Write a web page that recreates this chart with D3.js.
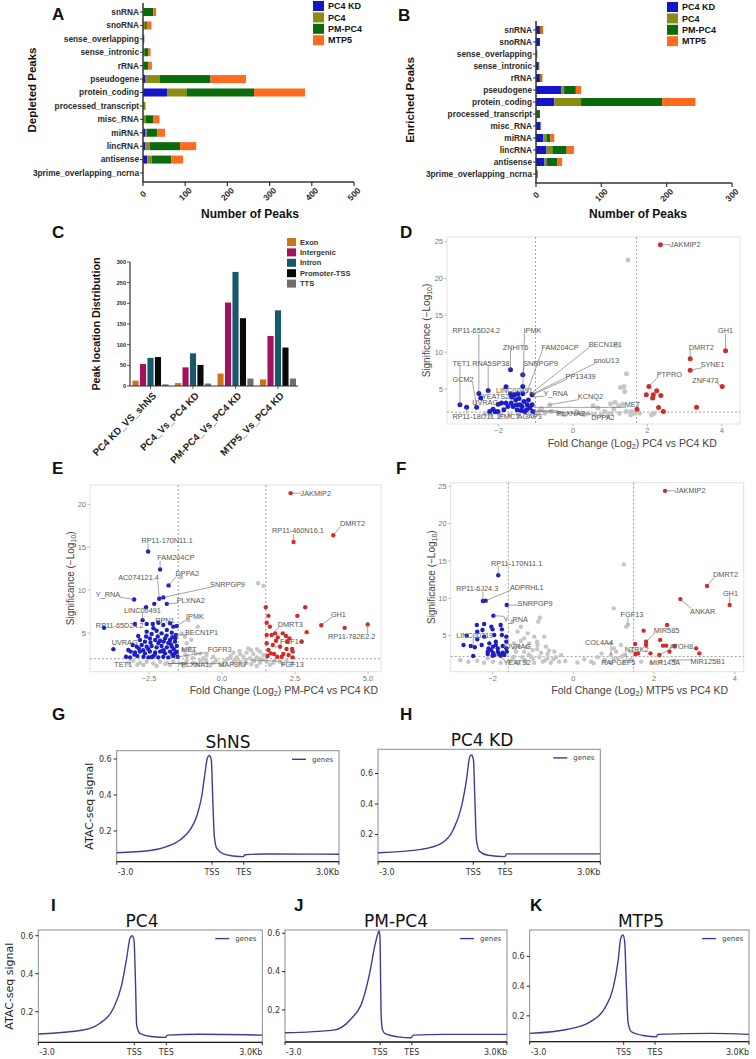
<!DOCTYPE html>
<html><head><meta charset="utf-8">
<script src="https://cdn.jsdelivr.net/npm/d3@7"></script>
<style>body{margin:0;background:#fff}svg{display:block}</style>
</head><body>
<svg id="fig" width="756" height="1059"></svg>
<script>
// ---------------- DATA ----------------
const bioCategories = ["snRNA","snoRNA","sense_overlapping","sense_intronic","rRNA","pseudogene","protein_coding","processed_transcript","misc_RNA","miRNA","lincRNA","antisense","3prime_overlapping_ncrna"];
const barSeries = ["PC4 KD","PC4","PM-PC4","MTP5"];
// Depleted peaks (panel A)
const depletedPC4KD = [1,1,2,1,1,6,57,1,1,6,5,10,0];
const depletedPC4   = [1,4,0,2,1,33,46,5,5,3,11,11,0];
const depletedPMPC4 = [22,4,1,10,11,121,160,0,19,25,72,46,0];
const depletedMTP5  = [7,11,0,5,8,84,121,0,14,18,38,28,0];
// Enriched peaks (panel B)
const enrichedPC4KD = [6,6,0,4,6,39,28,0,7,11,16,13,0];
const enrichedPC4   = [2,0,1,0,2,4,40,1,1,5,9,3,3];
const enrichedPMPC4 = [1,0,1,1,1,18,125,5,0,6,22,17,0];
const enrichedMTP5  = [2,0,0,0,1,8,51,0,0,6,11,7,0];
const depletedTicks = [0,100,200,300,400,500];
const enrichedTicks = [0,100,200,300];

// Peak location distribution (panel C)
const locationGroups = ["PC4 KD_VS_shNS","PC4_Vs_PC4 KD","PM-PC4_Vs_PC4 KD","MTP5_Vs_PC4 KD"];
const locationTypes = ["Exon","Intergenic","Intron","Promoter-TSS","TTS"];
const exonCounts       = [13,7,30,16];
const intergenicCounts = [53,45,202,121];
const intronCounts     = [68,79,276,183];
const promoterCounts   = [70,51,164,93];
const ttsCounts        = [4,6,18,18];
const locationTicks = [0,50,100,150,200,250,300];

// Volcano D : PC4 vs PC4 KD  [log2FC, -log10 p]
const dBlue = [[-3.04,2.85],[-2.86,2.53],[-2.59,2.53],[-2.53,4.39],[-2.48,3.76],[-2.28,4.8],[-2.24,1.95],[-2.09,1.9],[-2.01,2.94],[-1.86,2.17],[-1.80,5.29],[-1.80,3.08],[-1.68,7.6],[-1.68,4.34],[-1.66,3.08],[-1.61,2.62],[-1.57,4.2],[-1.54,3.53],[-1.50,2.17],[-1.48,4.34],[-1.43,2.85],[-1.37,2.62],[-1.35,6.92],[-1.35,5.34],[-1.35,4.34],[-1.32,3.3],[-1.25,2.17],[-1.23,2.85],[-1.16,2.4],[-1.10,4.2],[-1.10,2.85],[-1.08,1.95],[-1.30,1.95],[-1.75,2.62],[-1.92,3.08],[-2.15,2.26],[-2.02,1.95],[-1.39,2.08],[-1.52,2.85],[-1.45,3.7],[-1.20,3.5],[-1.65,3.9]];
const dRed = [[2.35,24.6],[4.10,10.2],[3.15,9.1],[3.15,7.56],[4.01,5.34],[2.04,5.34],[2.25,4.75],[1.97,4.2],[2.16,4.2],[2.36,4.12],[2.14,3.76],[3.32,2.53],[2.30,2.49],[2.43,1.95],[1.72,2.26]];
const dGray = [[1.48,22.5],[1.16,10.9],[1.44,7.06],[1.37,5.34],[1.28,5.2],[1.39,4.66],[1.13,3.21],[1.01,2.99],[1.23,2.71],[1.34,2.94],[1.43,1.95],[1.57,1.95],[1.66,1.72],[1.79,1.72],[2.11,1.49],[2.18,1.72],[1.03,1.72],[0.85,1.95],[0.67,2.4],[0.54,2.71],[0.40,1.72],[0.22,1.72],[0.09,1.95],[-0.22,1.49],[-0.40,1.72],[-0.58,1.95],[-0.63,2.85],[-0.76,1.72],[-0.90,2.08],[-0.94,1.72],[-1.03,1.49],[-1.21,1.63],[-1.48,1.63],[-1.70,1.49],[-1.93,1.54],[-2.20,1.49],[-2.37,1.63],[0.76,1.49],[0.94,1.36],[1.25,1.72],[0.58,1.49],[-0.3,1.6],[0.3,1.5],[1.1,2.3],[-0.85,2.3],[1.55,1.5]];
// label: [text, labelX, labelY, anchor, pointX, pointY]
const dLabels = [["JAKMIP2",2.61,24.6,"start",2.35,24.6],["GH1",4.10,12.9,"middle",4.10,10.2],["DMRT2",3.45,10.7,"middle",3.15,9.1],["SYNE1",3.43,8.28,"start",3.15,7.56],["ZNF473",3.56,6.15,"middle",4.01,5.34],["PTPRO",2.25,7.0,"start",2.04,5.34],["MET",1.39,2.85,"start",-1.05,2.5],["KCNQ2",0.13,3.98,"start",-0.63,2.85],["PLXNA2",-0.43,1.72,"start",-0.95,2.05],["DPPA2",0.49,1.18,"start",-1.1,2.0],["Y_RNA",-0.79,4.43,"start",-1.08,3.9],["PP13439",-0.2,6.7,"start",-1.10,4.2],["snoU13",0.56,8.87,"start",-1.10,4.3],["BECN1P1",0.42,11.1,"start",-1.12,4.4],["FAM204CP",-0.85,10.7,"start",-1.25,4.34],["IPMK",-1.33,12.9,"start",-1.35,5.34],["ZNHIT6",-1.89,10.7,"start",-1.68,7.6],["SNRPGP9",-1.34,8.5,"start",-1.35,6.92],["RNA5SP38",-2.71,8.5,"start",-2.28,4.8],["TET1",-3.24,8.5,"start",-3.04,2.85],["RP11-65D24.2",-3.24,12.9,"start",-2.53,4.39],["GCM2",-3.24,6.33,"start",-2.59,2.53],["YEATS2",-2.45,4.02,"start",null,null],["UVRAG",-2.71,3.15,"start",null,null],["LINC00491",-2.07,4.75,"start",null,null],["RP11-18O11.1",-3.24,1.27,"start",-2.86,2.53],["EMC7",-1.99,1.27,"start",null,null],["AGAP3",-1.49,1.27,"start",null,null]];

// Volcano E : PM-PC4 vs PC4 KD
const eBlue = [[-2.53,14.5],[-2.12,12.4],[-1.83,10.55],[-3.01,8.9],[-2.15,9.0],[-2.01,9.15],[-2.32,8.4],[-1.89,8.4],[-2.6,8.0],[-4.04,5.6],[-3.72,3.12],[-2.98,6.05],[-2.72,6.5],[-2.58,6.05],[-2.37,6.05],[-2.18,6.2],[-2.01,5.93],[-1.67,5.74],[-1.55,5.82],[-2.58,5.16],[-2.41,4.88],[-2.24,5.27],[-2.07,4.96],[-1.89,5.35],[-1.72,5.04],[-1.58,4.77],[-2.81,4.18],[-2.64,3.99],[-2.47,4.37],[-2.29,4.18],[-2.12,4.1],[-1.95,4.37],[-1.78,4.18],[-1.61,3.99],[-3.06,3.6],[-2.92,3.41],[-2.75,3.6],[-2.58,3.41],[-2.41,3.48],[-2.24,3.33],[-2.07,3.48],[-1.89,3.33],[-1.72,3.41],[-1.55,3.48],[-3.13,2.83],[-2.98,2.72],[-2.81,2.83],[-2.64,2.63],[-2.47,2.83],[-2.29,2.72],[-2.12,2.83],[-1.95,2.63],[-1.78,2.83],[-1.61,2.63],[-3.29,2.24],[-3.15,2.16],[-2.90,2.32],[-2.69,2.24],[-2.52,2.16],[-2.35,2.32],[-2.18,2.16],[-2.01,2.24],[-1.84,2.16],[-1.67,2.32],[-1.52,2.24],[-2.52,3.1],[-2.18,3.84],[-1.84,3.84],[-2.35,5.55],[-1.78,6.13],[-2.87,4.65],[-3.21,3.02],[-2.0,3.0],[-1.7,2.5],[-2.3,2.5],[-1.6,4.4],[-2.7,3.0],[-1.9,4.7],[-2.45,3.9],[-2.0,4.0],[-1.75,3.7],[-2.6,4.6],[-2.2,4.6],[-1.7,4.5],[-2.85,3.2],[-3.0,2.5],[-2.4,2.2],[-2.05,2.9],[-1.65,3.1],[-1.55,2.8]];
const eRed = [[2.35,21.3],[3.81,16.4],[2.45,15.6],[3.40,5.9],[4.2,5.6],[4.99,6.0],[1.5,8.0],[2.85,8.0],[1.59,7.0],[2.58,7.0],[1.53,6.2],[1.64,5.74],[2.9,5.1],[1.53,4.77],[1.70,4.77],[1.82,4.96],[2.08,4.96],[2.19,4.65],[2.31,4.37],[1.91,4.49],[1.85,4.1],[2.24,3.99],[2.73,3.99],[1.53,3.8],[1.74,3.6],[1.99,3.4],[2.21,3.13],[2.40,3.13],[1.59,3.02],[2.42,2.83],[1.67,2.63],[1.78,2.55],[2.10,2.55],[2.28,2.44],[1.56,2.32],[1.89,2.24],[2.04,2.24],[2.42,2.16]];
const eGray = [[1.24,10.8],[1.42,10.5],[-1.40,11.5],[-1.15,6.5],[-0.83,5.74],[-1.38,4.96],[-1.27,4.57],[-1.21,3.8],[-1.10,3.2],[-1.32,3.02],[-0.98,2.83],[-0.75,2.63],[-0.53,2.44],[-0.30,2.24],[0.39,2.71],[0.62,2.55],[0.84,2.71],[1.07,2.55],[1.30,2.83],[1.42,2.44],[0.50,2.16],[0.73,2.24],[0.96,2.05],[1.19,2.16],[-3.04,1.77],[-2.81,1.54],[-2.58,1.65],[-2.35,1.46],[-2.12,1.65],[-1.89,1.54],[-1.67,1.65],[-1.44,1.46],[-1.21,1.77],[-0.98,1.54],[-0.75,1.77],[-0.53,1.65],[-0.30,1.54],[0.39,1.77],[0.62,1.65],[0.84,1.54],[1.07,1.77],[1.30,1.54],[1.53,1.65],[1.76,1.54],[1.99,1.65],[2.21,1.77],[-2.69,1.27],[-2.24,1.15],[-1.78,1.27],[-1.32,1.15],[-0.87,1.27],[0.73,1.27],[1.19,1.15],[1.64,1.27],[2.10,1.38],[-1.95,1.38],[-0.64,2.05],[-1.25,2.5],[-1.05,4.2],[1.0,3.0],[0.2,2.0],[1.3,2.0],[-1.0,2.1],[-0.6,1.9],[-0.2,1.8],[0.1,1.7],[0.5,1.9],[0.8,1.85],[1.1,1.7],[1.4,1.9],[-1.2,2.3],[-0.9,2.6],[0.3,2.3],[0.6,2.9],[0.9,3.2],[1.2,3.1],[-1.3,1.3],[0.0,1.3],[0.4,1.4],[1.0,1.35],[1.8,1.8],[2.4,1.5],[-2.9,1.3],[-3.2,1.5],[-0.4,1.2]];
const eLabels = [["JAKMIP2",2.69,21.3,"start",2.35,21.3],["DMRT2",4.04,17.8,"start",3.81,16.4],["RP11-460N16.1",2.6,16.9,"middle",2.45,15.6],["RP11-170N11.1",-1.88,15.8,"middle",-2.53,14.5],["FAM204CP",-1.58,13.8,"middle",-2.12,12.4],["DPPA2",-1.59,11.95,"start",-1.83,10.55],["AC074121.4",-2.86,11.45,"middle",-2.15,9.0],["SNRPGP9",-0.41,10.7,"start",-2.01,9.15],["Y_RNA",-4.32,9.55,"start",-3.01,8.9],["PLXNA2",-1.55,8.84,"start",-1.89,8.4],["LINC00491",-3.36,7.67,"start",-2.72,6.5],["IPMK",-1.23,6.98,"start",-1.55,5.82],["RPN1",-2.29,6.5,"start",null,null],["RP11-65D24.2",-4.32,5.9,"start",-4.04,5.6],["BECN1P1",-1.27,5.04,"start",-1.58,4.77],["UVRAG",-3.78,3.87,"start",-2.81,4.18],["MET",-1.40,3.13,"start",null,null],["FGFR3",-0.49,3.13,"start",-1.55,2.2],["TET1",-3.69,1.39,"start",-3.15,2.16],["PLXNA1",-1.40,1.39,"start",-1.84,1.45],["MAP3K7",-0.13,1.39,"start",-1.84,1.45],["DMRT3",1.91,6.05,"start",1.70,4.77],["FGF14",1.99,4.06,"start",1.82,3.3],["FGF13",2.02,1.35,"start",1.0,1.85],["GH1",3.73,7.2,"start",3.40,5.9],["RP11-782E2.2",4.44,4.57,"middle",4.99,6.0]];

// Volcano F : MTP5 vs PC4 KD
const fBlue = [[-1.86,13.1],[-2.24,9.64],[-2.17,9.69],[-1.65,9.1],[-1.98,7.68],[-2.39,6.43],[-2.21,6.56],[-2.03,6.2],[-1.80,6.43],[-2.38,5.54],[-2.25,5.76],[-2.00,5.85],[-1.77,5.85],[-2.64,5.0],[-2.38,4.51],[-2.21,4.87],[-1.96,5.09],[-1.77,5.09],[-2.72,3.75],[-2.54,3.62],[-2.44,3.44],[-2.27,3.75],[-2.08,3.97],[-1.92,4.2],[-1.66,4.2],[-1.99,3.53],[-1.87,3.3],[-1.75,3.62],[-1.66,3.3],[-2.12,2.86],[-1.99,2.72],[-1.87,2.86],[-1.75,2.72],[-1.65,2.86],[-2.48,2.28],[-2.12,2.54],[-1.96,2.41],[-1.84,2.54],[-1.71,2.41],[-2.04,3.08],[-1.92,3.75],[-1.66,4.87],[-2.0,2.3],[-1.8,2.3],[-2.1,3.3]];
const fRed = [[2.27,24.4],[3.31,11.65],[3.87,9.1],[2.65,9.9],[2.32,6.43],[1.74,5.67],[2.15,4.42],[1.80,4.2],[1.80,3.75],[1.53,3.88],[2.22,3.66],[2.30,3.66],[2.51,3.62],[3.04,3.3],[3.12,2.63],[1.54,2.54],[1.60,2.63],[1.91,2.63],[2.13,2.41],[2.38,2.86]];
const fGray = [[1.25,14.55],[1.0,8.66],[1.35,6.43],[1.31,6.2],[-0.83,7.41],[-0.87,6.88],[-1.51,6.88],[-1.30,6.2],[-1.38,5.54],[-1.13,5.31],[-1.22,4.64],[-0.97,4.87],[-0.72,4.87],[-1.47,3.97],[-1.34,3.53],[-1.09,3.97],[-0.89,3.75],[-0.68,3.53],[-0.47,2.86],[-1.42,2.86],[-1.22,2.86],[-1.01,3.08],[-0.80,2.72],[-0.64,2.54],[-1.47,2.19],[-1.26,2.1],[-1.05,2.19],[-0.84,2.1],[-0.64,1.96],[-0.43,2.1],[-0.35,1.52],[-0.56,1.38],[-0.76,1.52],[-0.97,1.38],[-1.18,1.52],[-1.38,1.38],[-1.59,1.52],[-1.80,1.38],[-1.99,1.52],[-2.21,1.38],[-2.38,1.65],[-2.12,1.96],[0.27,1.83],[0.44,1.52],[0.60,2.1],[0.77,1.74],[0.93,2.41],[1.06,2.86],[1.10,1.96],[1.26,2.41],[1.43,2.86],[1.26,1.52],[1.43,1.83],[0.93,1.38],[1.68,1.52],[1.93,1.38],[2.17,1.52],[0.93,3.97],[1.18,3.75],[-1.1,2.5],[-0.9,3.2],[-1.3,4.3],[-1.5,1.8],[-1.2,1.7],[-1.0,1.9],[-0.7,1.7],[-0.5,1.85],[-0.2,1.6],[0.1,1.4],[0.5,1.3],[0.8,1.6],[1.0,1.9],[1.2,2.2],[1.4,1.7],[-1.45,3.3],[-1.15,3.5],[-0.9,4.2],[-0.6,3.0],[-0.3,2.4],[0.7,2.6],[1.0,3.3],[-2.6,1.5],[-2.8,1.7],[2.5,1.6]];
const fLabels = [["JAKMIP2",2.52,24.4,"start",2.27,24.4],["DMRT2",3.46,13.2,"start",3.31,11.65],["GH1",3.89,10.67,"middle",3.87,9.1],["ANKAR",2.89,8.26,"start",2.65,9.9],["RP11-170N11.1",-2.04,14.7,"start",-1.86,13.1],["RP11-6J24.3",-2.90,11.3,"start",-2.24,9.64],["ADPRHL1",-1.57,11.5,"start",-2.17,9.69],["SNRPGP9",-1.38,9.3,"start",-1.65,9.1],["Y_RNA",-1.73,7.19,"start",-1.98,7.68],["LINC00319",-2.90,5.09,"start",-2.48,3.5],["UVRAG",-1.69,3.53,"start",null,null],["YEATS2",-1.73,1.38,"start",-1.95,2.5],["FGF13",1.17,7.86,"start",1.35,6.43],["MIR585",1.99,5.76,"start",1.80,4.2],["COL4A4",0.29,4.06,"start",0.93,2.41],["NTRK2",1.27,3.17,"start",1.31,1.6],["ATOH8",2.38,3.62,"start",2.13,2.41],["RAPGEF5",0.69,1.38,"start",null,null],["MIR145A",1.89,1.38,"start",null,null],["MIR125B1",2.90,1.52,"start",2.38,1.75]];

// ATAC-seq profiles: [bin (0..7000; TSS=3000, TES=4000), signal]
const profileTickBins = [0,3000,4000,7000];
const profileTickLabels = ["-3.0","TSS","TES","3.0Kb"];
const profileYTicks = [0.2,0.4,0.6];
const shnsProfile = [[0,0.079],[1049,0.091],[1573,0.113],[1993,0.15],[2308,0.206],[2518,0.28],[2675,0.39],[2780,0.52],[2854,0.604],[2917,0.619],[2980,0.594],[3022,0.39],[3074,0.17],[3148,0.104],[3357,0.072],[3672,0.061],[3987,0.057],[4040,0.068],[4722,0.072],[7000,0.07]];
const pc4kdProfile = [[0,0.081],[1366,0.103],[1997,0.142],[2365,0.23],[2628,0.383],[2785,0.557],[2890,0.71],[2943,0.721],[3006,0.689],[3048,0.448],[3100,0.164],[3205,0.088],[3468,0.064],[3994,0.055],[4048,0.073],[5255,0.073],[7000,0.073]];
const pc4Profile = [[0,0.083],[1406,0.104],[1927,0.139],[2344,0.217],[2604,0.34],[2760,0.48],[2865,0.586],[2927,0.6],[2990,0.578],[3042,0.323],[3073,0.13],[3177,0.086],[3594,0.068],[3979,0.065],[4031,0.077],[5052,0.081],[7000,0.077]];
const pmpc4Profile = [[0,0.081],[1523,0.095],[2050,0.148],[2470,0.26],[2680,0.40],[2838,0.539],[2933,0.60],[2965,0.612],[2995,0.58],[3015,0.35],[3035,0.16],[3070,0.1],[3143,0.078],[3563,0.06],[3983,0.055],[4036,0.069],[5032,0.073],[7000,0.073]];
const mtp5Profile = [[0,0.082],[1223,0.11],[1968,0.165],[2393,0.25],[2659,0.385],[2819,0.565],[2904,0.72],[2978,0.744],[3032,0.699],[3085,0.407],[3138,0.16],[3245,0.093],[3670,0.066],[4042,0.059],[4096,0.075],[5798,0.082],[7000,0.075]];

// ---------------- DRAWING ----------------
const svg = d3.select("#fig");
const SANS = "'Liberation Sans', Arial, Helvetica, sans-serif";
const MPL = "'DejaVu Sans', sans-serif";
const barColors = ["#1414c8","#8c8c14","#0b6b0b","#ff6a1e"];
const locColors = ["#cf7414","#a3125c","#17596a","#0a0a0a","#6e6e6e"];
const BLUE = "#1e1ec8", RED = "#d42a2a", GRAY = "#c6c6c6";
const CURVE = "#3c3c9c";

function panelLabel(t,x,y){
  svg.append("text").attr("x",x).attr("y",y).attr("dy","0.35em").text(t)
    .attr("font-family",SANS).attr("font-weight","bold").attr("font-size",17).attr("fill","#111");
}
function rich(t, parts){
  parts.forEach(([s,sub],i)=>{
    const ts = t.append("tspan").text(s);
    if(sub){ ts.attr("font-size","70%").attr("dy",2.5); }
    else if(i>0 && parts[i-1][1]){ ts.attr("dy",-2.5); }
  });
  return t;
}

// ---- stacked horizontal bars (A, B)
function barRows(vals){
  return bioCategories.map((c,i)=>{const r={category:c}; barSeries.forEach((s,j)=>r[s]=vals[j][i]); return r;});
}
function drawStacked(o){
  const g = svg.append("g").attr("font-family",SANS).attr("font-weight","bold");
  const x = d3.scaleLinear().domain([0,o.max]).range([o.left,o.right]);
  const y = d3.scalePoint().domain(bioCategories).range([o.c0,o.c1]);
  const series = d3.stack().keys(barSeries)(barRows(o.vals));
  g.selectAll("g.layer").data(series).join("g").attr("fill",(d,i)=>barColors[i])
    .selectAll("rect").data(d=>d).join("rect")
    .attr("x",d=>x(d[0])).attr("width",d=>Math.max(0,x(d[1])-x(d[0])))
    .attr("y",d=>y(d.data.category)-o.bh/2).attr("height",o.bh);
  g.append("line").attr("x1",o.left).attr("x2",o.left).attr("y1",o.axTop).attr("y2",o.axBot).attr("stroke","#333").attr("stroke-width",1.5);
  g.append("line").attr("x1",o.left-0.75).attr("x2",o.right).attr("y1",o.axBot).attr("y2",o.axBot).attr("stroke","#333").attr("stroke-width",1.5);
  bioCategories.forEach(c=>{
    g.append("line").attr("x1",o.left-3).attr("x2",o.left).attr("y1",y(c)).attr("y2",y(c)).attr("stroke","#333").attr("stroke-width",1);
    g.append("text").attr("x",o.left-4).attr("y",y(c)).attr("dy","0.35em").attr("text-anchor","end").attr("font-size",8.3).attr("fill","#2a2a2a").text(c);
  });
  o.ticks.forEach(t=>{
    g.append("line").attr("x1",x(t)).attr("x2",x(t)).attr("y1",o.axBot).attr("y2",o.axBot+4).attr("stroke","#333").attr("stroke-width",1.2);
    g.append("text").attr("transform",`translate(${x(t)},${o.axBot+12}) rotate(-45)`).attr("text-anchor","middle").attr("dy","0.35em")
      .attr("font-size",8.5).attr("fill","#2a2a2a").text(t);
  });
  g.append("text").attr("x",o.titleX).attr("y",214).attr("dy","0.35em").attr("text-anchor","middle").attr("font-size",12).attr("fill","#111").text("Number of Peaks");
  g.append("text").attr("transform",`translate(${o.ylabX},${o.ylabY}) rotate(-90)`).attr("text-anchor","middle").attr("dy","0.35em").attr("font-size",11.5).attr("fill","#111").text(o.ylab);
  barSeries.forEach((s,i)=>{
    const ly = o.legY + i*11.4;
    g.append("rect").attr("x",o.legX).attr("y",ly-5).attr("width",11).attr("height",10).attr("fill",barColors[i]);
    g.append("text").attr("x",o.legX+15).attr("y",ly).attr("dy","0.35em").attr("font-size",9).attr("fill","#111").text(s);
  });
}
panelLabel("A",52,14);
drawStacked({vals:[depletedPC4KD,depletedPC4,depletedPMPC4,depletedMTP5],max:500,ticks:depletedTicks,left:143,right:354,c0:12,c1:173,bh:8,axTop:3,axBot:182,titleX:250,ylab:"Depleted Peaks",ylabX:32,ylabY:90,legX:313,legY:6});
panelLabel("B",398,15);
drawStacked({vals:[enrichedPC4KD,enrichedPC4,enrichedPMPC4,enrichedMTP5],max:300,ticks:enrichedTicks,left:536,right:732,c0:30,c1:174,bh:8,axTop:21,axBot:183,titleX:638,ylab:"Enriched Peaks",ylabX:410,ylabY:100,legX:667,legY:7});

// ---- grouped bars (C)
(function(){
  const g = svg.append("g").attr("font-family",SANS).attr("font-weight","bold");
  const x0 = d3.scaleBand().domain(locationGroups).range([129.25,299.25]);
  const x1 = d3.scaleBand().domain(locationTypes).range([3.25,39.25]).paddingInner(0.18);
  const y = d3.scaleLinear().domain([0,300]).range([386,262]);
  const vals = [exonCounts,intergenicCounts,intronCounts,promoterCounts,ttsCounts];
  locationGroups.forEach((gn,gi)=>locationTypes.forEach((t,ti)=>{
    g.append("rect").attr("x",x0(gn)+x1(t)).attr("width",x1.bandwidth()).attr("y",y(vals[ti][gi])).attr("height",y(0)-y(vals[ti][gi])).attr("fill",locColors[ti]);
  }));
  g.append("line").attr("x1",130).attr("x2",130).attr("y1",y(300)).attr("y2",y(0)).attr("stroke","#333").attr("stroke-width",1.2);
  g.append("line").attr("x1",129.4).attr("x2",298).attr("y1",y(0)).attr("y2",y(0)).attr("stroke","#333").attr("stroke-width",1.2);
  locationTicks.forEach(t=>{
    g.append("line").attr("x1",127).attr("x2",130).attr("y1",y(t)).attr("y2",y(t)).attr("stroke","#333").attr("stroke-width",0.8);
    g.append("text").attr("x",126).attr("y",y(t)).attr("dy","0.35em").attr("text-anchor","end").attr("font-size",5.5).attr("fill","#222").text(t);
  });
  locationGroups.forEach(gn=>{
    const cx = x0(gn)+x0.bandwidth()/2;
    g.append("line").attr("x1",cx).attr("x2",cx).attr("y1",y(0)).attr("y2",y(0)+3).attr("stroke","#333").attr("stroke-width",0.8);
    g.append("text").attr("transform",`translate(${cx+4},${y(0)+8}) rotate(-45)`).attr("text-anchor","end").attr("dy","0.35em").attr("font-size",9.8).attr("fill","#222").text(gn);
  });
  g.append("text").attr("transform","translate(96,324) rotate(-90)").attr("text-anchor","middle").attr("dy","0.35em").attr("font-size",10.8).attr("fill","#111").text("Peak location Distribution");
  locationTypes.forEach((t,i)=>{
    const ly = 242 + i*10.4;
    g.append("rect").attr("x",287).attr("y",ly-4).attr("width",9).attr("height",8).attr("fill",locColors[i]);
    g.append("text").attr("x",300).attr("y",ly).attr("dy","0.35em").attr("font-size",7.5).attr("fill","#333").text(t);
  });
})();
panelLabel("C",52,232);

// ---- volcano (D, E, F)
function drawVolcano(o){
  const g = svg.append("g").attr("font-family",SANS);
  const x = d3.scaleLinear().domain(o.xd).range([o.l,o.r]);
  const y = d3.scaleLinear().domain(o.yd).range([o.b,o.t]);
  g.append("rect").attr("x",o.l).attr("y",o.t).attr("width",o.r-o.l).attr("height",o.b-o.t).attr("fill","#fff").attr("stroke","#e2e2e2").attr("stroke-width",1);
  o.vl.forEach(v=>g.append("line").attr("x1",x(v)).attr("x2",x(v)).attr("y1",o.t).attr("y2",o.b).attr("stroke","#777").attr("stroke-width",0.7).attr("stroke-dasharray","2,2"));
  g.append("line").attr("x1",o.l).attr("x2",o.r).attr("y1",y(o.hl)).attr("y2",y(o.hl)).attr("stroke","#777").attr("stroke-width",0.7).attr("stroke-dasharray","2,2");
  const pts = [...o.gray.map(p=>[p,GRAY]),...o.blue.map(p=>[p,BLUE]),...o.red.map(p=>[p,RED])];
  g.append("g").selectAll("circle").data(pts).join("circle").attr("cx",d=>x(d[0][0])).attr("cy",d=>y(d[0][1])).attr("r",o.pr).attr("fill",d=>d[1]);
  const gl = g.append("g"), gt = g.append("g");
  o.labels.forEach(([txt,tx,ty,anc,px,py])=>{
    const t = gt.append("text").attr("x",x(tx)).attr("y",y(ty)).attr("dy","0.35em").attr("text-anchor",anc).attr("font-size",7.3).attr("fill","#555").text(txt);
    if(px!==null){
      const bb = t.node().getBBox();
      const PX=x(px), PY=y(py);
      const cx = Math.max(bb.x+1, Math.min(PX, bb.x+bb.width-1));
      const cy = Math.max(bb.y+1.5, Math.min(PY, bb.y+bb.height-1.5));
      gl.append("line").attr("x1",PX).attr("y1",PY).attr("x2",cx).attr("y2",cy).attr("stroke","#666").attr("stroke-width",0.6);
    }
  });
  o.xt.forEach(v=>{
    g.append("line").attr("x1",x(v)).attr("x2",x(v)).attr("y1",o.b).attr("y2",o.b+2.5).attr("stroke","#999").attr("stroke-width",0.6);
    g.append("text").attr("x",x(v)).attr("y",o.b+6.5).attr("dy","0.35em").attr("text-anchor","middle").attr("font-size",7.5).attr("fill","#777").text(o.xf(v));
  });
  o.yt.forEach(v=>{
    g.append("line").attr("x1",o.l-2.5).attr("x2",o.l).attr("y1",y(v)).attr("y2",y(v)).attr("stroke","#999").attr("stroke-width",0.6);
    g.append("text").attr("x",o.l-4).attr("y",y(v)).attr("dy","0.35em").attr("text-anchor","end").attr("font-size",7.5).attr("fill","#777").text(v);
  });
  const xt = g.append("text").attr("y",o.xTitleY).attr("dy","0.35em").attr("font-size",10.5).attr("fill","#444");
  rich(xt,[["Fold Change (Log",false],["2",true],[")",false],[o.comp,false]]);
  const spans = xt.selectAll("tspan").nodes();
  const pre = spans[0].getComputedTextLength()+spans[1].getComputedTextLength()+spans[2].getComputedTextLength();
  xt.attr("x",(o.l+o.r)/2 - pre/2);
  const yt = g.append("text").attr("transform",`translate(${o.yTitleX},${(o.t+o.b)/2}) rotate(-90)`).attr("text-anchor","middle").attr("dy","0.35em").attr("font-size",10).attr("fill","#444");
  rich(yt,[["Significance (\u2212Log",false],["10",true],[")",false]]);
}
panelLabel("D",400,232);
drawVolcano({l:447,r:740,t:237,b:424,xd:[-3.387,4.489],yd:[0.244,25.64],vl:[-1.01,1.71],hl:1.86,gray:dGray,blue:dBlue,red:dRed,labels:dLabels,pr:2.5,xt:[-2,0,2,4],yt:[5,10,15,20,25],xf:d3.format("d"),comp:" PC4 vs PC4 KD",xTitleY:443,yTitleX:426});
panelLabel("E",52,468);
drawVolcano({l:90,r:381,t:485,b:671.7,xd:[-4.521,5.445],yd:[0.49,22.25],vl:[-1.5,1.5],hl:2.0,gray:eGray,blue:eBlue,red:eRed,labels:eLabels,pr:2.2,xt:[-2.5,0,2.5,5],yt:[5,10,15,20],xf:d3.format(".1f"),comp:" PM-PC4 vs PC4 KD",xTitleY:690,yTitleX:70});
panelLabel("F",396,468);
drawVolcano({l:450.7,r:743.7,t:482.7,b:671.7,xd:[-3.037,4.218],yd:[0.174,25.49],vl:[-1.61,1.49],hl:2.2,gray:fGray,blue:fBlue,red:fRed,labels:fLabels,pr:2.2,xt:[-2,0,2,4],yt:[5,10,15,20,25],xf:d3.format("d"),comp:"  MTP5 vs PC4 KD",xTitleY:690,yTitleX:431});

// ---- profiles (G-K)
function drawProfile(o){
  const g = svg.append("g").attr("font-family",MPL);
  const x = d3.scaleLinear().domain([0,7000]).range([o.l,o.r]);
  const y = d3.scaleLinear().domain([o.y0,o.y1]).range([o.b,o.t]);
  g.append("rect").attr("x",o.l).attr("y",o.t).attr("width",o.r-o.l).attr("height",o.b-o.t).attr("fill","none").attr("stroke","#8a8a8a").attr("stroke-width",1);
  g.append("line").attr("x1",o.l).attr("x2",o.r).attr("y1",o.b).attr("y2",o.b).attr("stroke","#222").attr("stroke-width",1.3);
  g.append("path").datum(o.data).attr("d",d3.line().x(d=>x(d[0])).y(d=>y(d[1])).curve(d3.curveMonotoneX))
    .attr("fill","none").attr("stroke",CURVE).attr("stroke-width",1.4);
  profileTickBins.forEach((b,i)=>{
    g.append("line").attr("x1",x(b)).attr("x2",x(b)).attr("y1",o.b).attr("y2",o.b+3).attr("stroke","#222").attr("stroke-width",1);
    const anc = i===0?"start":(i===profileTickBins.length-1?"end":"middle");
    g.append("text").attr("x",x(b)+(i===0?1:0)).attr("y",o.b+10).attr("dy","0.35em").attr("text-anchor",anc).attr("font-size",8).attr("fill","#333").text(profileTickLabels[i]);
  });
  profileYTicks.forEach(v=>{
    g.append("line").attr("x1",o.l-3).attr("x2",o.l).attr("y1",y(v)).attr("y2",y(v)).attr("stroke","#222").attr("stroke-width",1);
    g.append("text").attr("x",o.l-5).attr("y",y(v)).attr("dy","0.35em").attr("text-anchor","end").attr("font-size",8).attr("fill","#333").text(v.toFixed(1));
  });
  g.append("text").attr("x",o.titleX).attr("y",o.t-3).attr("text-anchor","middle").attr("font-size",17).attr("fill","#111").text(o.title);
  const ly = o.t+8.6;
  g.append("line").attr("x1",o.r-47).attr("x2",o.r-33).attr("y1",ly).attr("y2",ly).attr("stroke",CURVE).attr("stroke-width",1.4);
  g.append("text").attr("x",o.r-27).attr("y",ly).attr("dy","0.35em").attr("font-size",7).attr("fill","#444").text("genes");
  if(o.ylabX!==undefined){
    g.append("text").attr("transform",`translate(${o.ylabX},${(o.t+o.b)/2}) rotate(-90)`).attr("text-anchor","middle").attr("dy","0.35em").attr("font-size",11).attr("fill","#222").text("ATAC-seq signal");
  }
}
panelLabel("G",52,714);
drawProfile({l:116.7,r:339,t:750.7,b:861.7,y0:0.029,y1:0.646,data:shnsProfile,title:"ShNS",titleX:228,ylabX:89});
panelLabel("H",400,714);
drawProfile({l:378,r:600.3,t:749.3,b:861.7,y0:0.022,y1:0.7587,data:pc4kdProfile,title:"PC4 KD",titleX:482});
panelLabel("I",51,905);
drawProfile({l:38.3,r:262.3,t:930,b:1042.3,y0:0.039,y1:0.63,data:pc4Profile,title:"PC4",titleX:142,ylabX:9});
panelLabel("J",294,905);
drawProfile({l:285,r:507,t:930,b:1042,y0:0.033,y1:0.617,data:pmpc4Profile,title:"PM-PC4",titleX:396});
panelLabel("K",530,905);
drawProfile({l:529.7,r:749,t:930,b:1041.7,y0:0.026,y1:0.778,data:mtp5Profile,title:"MTP5",titleX:641});
</script>
</body></html>
